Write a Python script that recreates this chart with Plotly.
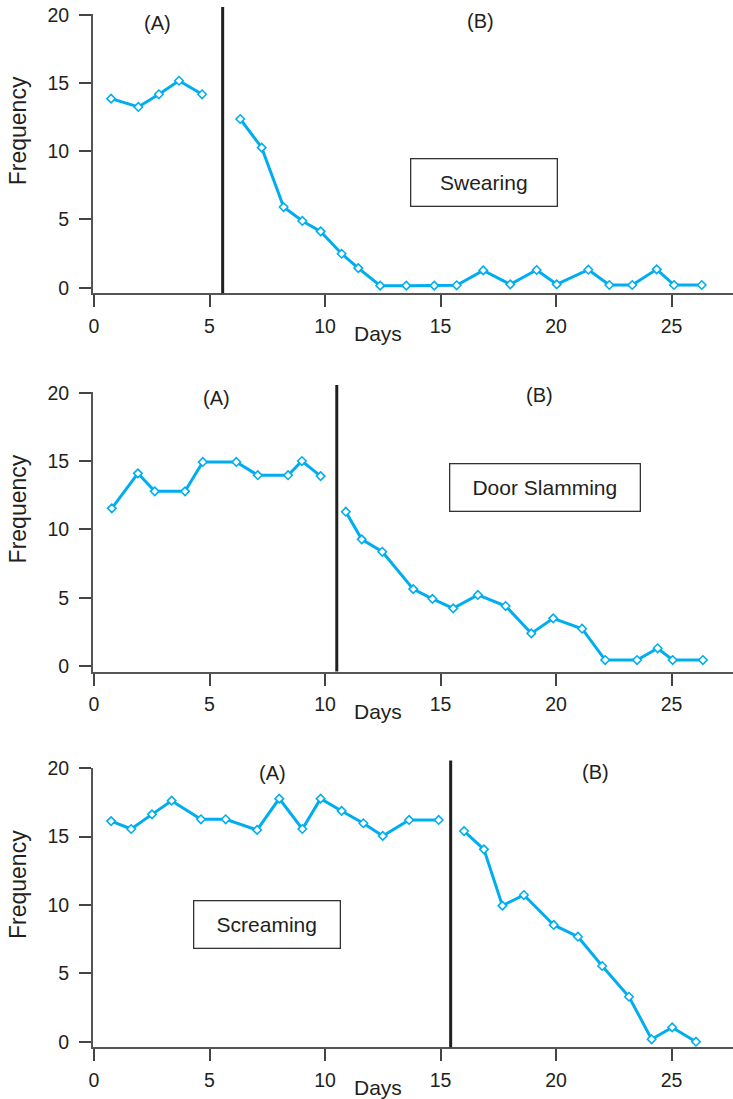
import plotly.graph_objects as go

# ---------------- data ----------------
x_ticks = [0, 5, 10, 15, 20, 25]
y_ticks = [0, 5, 10, 15, 20]
behaviours = ["Swearing", "Door Slamming", "Screaming"]
phase_labels = ["(A)", "(B)"]

# Swearing
swear_days_a = [0.74, 1.92, 2.81, 3.68, 4.68]
swear_freq_a = [13.85, 13.24, 14.17, 15.16, 14.17]
swear_days_b = [6.33, 7.26, 8.21, 9.02, 9.81, 10.72, 11.44, 12.39, 13.52, 14.73, 15.70,
                16.85, 18.02, 19.16, 20.03, 21.40, 22.31, 23.30, 24.36, 25.11, 26.31]
swear_freq_b = [12.36, 10.26, 5.91, 4.89, 4.13, 2.49, 1.44, 0.15, 0.15, 0.15, 0.18,
                1.27, 0.25, 1.30, 0.25, 1.32, 0.20, 0.20, 1.35, 0.20, 0.20]
swear_change = 5.57

# Door slamming
door_days_a = [0.77, 1.90, 2.63, 3.94, 4.71, 6.16, 7.09, 8.40, 9.00, 9.81]
door_freq_a = [11.54, 14.10, 12.78, 12.78, 14.93, 14.93, 13.96, 13.96, 15.00, 13.90]
door_days_b = [10.90, 11.59, 12.48, 13.82, 14.65, 15.55, 16.62, 17.82, 18.93, 19.88,
               21.13, 22.13, 23.51, 24.40, 25.05, 26.36]
door_freq_b = [11.29, 9.27, 8.36, 5.63, 4.92, 4.22, 5.20, 4.39, 2.39, 3.49,
               2.73, 0.44, 0.44, 1.30, 0.44, 0.44]
door_change = 10.51

# Screaming
scream_days_a = [0.74, 1.61, 2.51, 3.36, 4.63, 5.70, 7.06, 8.02, 9.02, 9.81, 10.72,
                 11.66, 12.50, 13.64, 14.92]
scream_freq_a = [16.14, 15.56, 16.63, 17.63, 16.27, 16.27, 15.49, 17.78, 15.56, 17.78,
                 16.88, 15.98, 15.05, 16.22, 16.22]
scream_days_b = [16.02, 16.88, 17.68, 18.61, 19.90, 20.95, 22.00, 23.16, 24.14, 25.03, 26.06]
scream_freq_b = [15.41, 14.07, 9.95, 10.73, 8.54, 7.68, 5.54, 3.29, 0.18, 1.05, 0.0]
scream_change = 15.44

panels = [
    (swear_days_a, swear_freq_a, swear_days_b, swear_freq_b, swear_change),
    (door_days_a, door_freq_a, door_days_b, door_freq_b, door_change),
    (scream_days_a, scream_freq_a, scream_days_b, scream_freq_b, scream_change),
]

# ---------------- layout / style ----------------
W, H = 733, 1099
BLUE = "#00aeef"
TXT = "#231f20"
AX = "#555555"
FONT = "Liberation Sans, Arial, sans-serif"

x_range = [-1 / 23.1, 639 / 23.1]
x_domain = [93 / W, 1.0]
y_range = [-0.4, 20.05]
y_domains_px = [(14.0, 293.2), (392.0, 671.5), (767.6, 1047.2)]

# label placement (layout constants)
phase_label_pos = [((2.74, 19.41), (16.75, 19.56)),
                   ((5.31, 19.59), (19.28, 19.83)),
                   ((7.71, 19.63), (21.73, 19.75))]
box_pos = [(16.90, 7.72, 145), (19.53, 13.05, 189), (7.50, 8.55, 145)]

fig = go.Figure()
layout = dict(
    template="none",
    width=W, height=H,
    margin=dict(l=0, r=0, t=0, b=0, pad=0, autoexpand=False),
    paper_bgcolor="white", plot_bgcolor="white",
    showlegend=False,
    font=dict(family=FONT, color=TXT),
    shapes=[], annotations=[],
)

for i, (xa, ya, xb, yb, change) in enumerate(panels):
    n = "" if i == 0 else str(i + 1)
    xname, yname = "x" + n, "y" + n
    for xs, ys in ((xa, ya), (xb, yb)):
        fig.add_trace(go.Scatter(
            x=xs, y=ys, mode="lines+markers", xaxis=xname, yaxis=yname,
            line=dict(color=BLUE, width=3),
            marker=dict(symbol="diamond", size=6.5, color="white",
                        line=dict(color=BLUE, width=1.6)),
            cliponaxis=False, hoverinfo="skip",
        ))
    top_px, bot_px = y_domains_px[i]
    layout["xaxis" + n] = dict(
        domain=x_domain, range=x_range, anchor=yname, automargin=False,
        showline=True, linecolor=AX, linewidth=2,
        ticks="outside", ticklen=12, tickwidth=1.6, tickcolor="#444444",
        tickvals=x_ticks, tickfont=dict(size=19.5, color=TXT, family=FONT),
        ticklabelstandoff=2,
        showgrid=False, zeroline=False, fixedrange=True,
    )
    layout["yaxis" + n] = dict(
        domain=[1 - bot_px / H, 1 - top_px / H], range=y_range, anchor=xname,
        automargin=False,
        showline=True, linecolor=AX, linewidth=2,
        ticks="outside", ticklen=12, tickwidth=1.6, tickcolor="#444444",
        tickvals=y_ticks, tickfont=dict(size=19.5, color=TXT, family=FONT),
        ticklabelstandoff=6,
        showgrid=False, zeroline=False, fixedrange=True,
    )
    # phase change line
    layout["shapes"].append(dict(
        type="line", xref=xname, yref=yname + " domain",
        x0=change, x1=change, y0=0, y1=1.025,
        line=dict(color=TXT, width=3),
    ))
    # phase labels
    for lab, (px, py) in zip(phase_labels, phase_label_pos[i]):
        layout["annotations"].append(dict(
            text=lab, x=px, y=py, xref=xname, yref=yname,
            showarrow=False, font=dict(size=20, color=TXT, family=FONT),
            xanchor="center", yanchor="middle",
        ))
    # behaviour box
    bx, by, bw = box_pos[i]
    layout["annotations"].append(dict(
        text=behaviours[i], x=bx, y=by, xref=xname, yref=yname,
        showarrow=False, font=dict(size=21, color=TXT, family=FONT),
        xanchor="center", yanchor="middle",
        width=bw, height=46, borderpad=0, bordercolor="#333333", borderwidth=1.3,
        bgcolor="white", align="center", valign="middle",
    ))
    # Days label
    layout["annotations"].append(dict(
        text="Days", x=12.29, y=0, xref=xname, yref=yname + " domain",
        yshift=-40, showarrow=False, font=dict(size=21, color=TXT, family=FONT),
        xanchor="center", yanchor="middle",
    ))
    # Frequency label
    layout["annotations"].append(dict(
        text="Frequency", x=18 / W, y=0.58, xref="paper", yref=yname + " domain",
        textangle=-90, showarrow=False, font=dict(size=23, color=TXT, family=FONT),
        xanchor="center", yanchor="middle",
    ))

fig.update_layout(**layout)
fig.write_html("out.html", config={"displayModeBar": False})
